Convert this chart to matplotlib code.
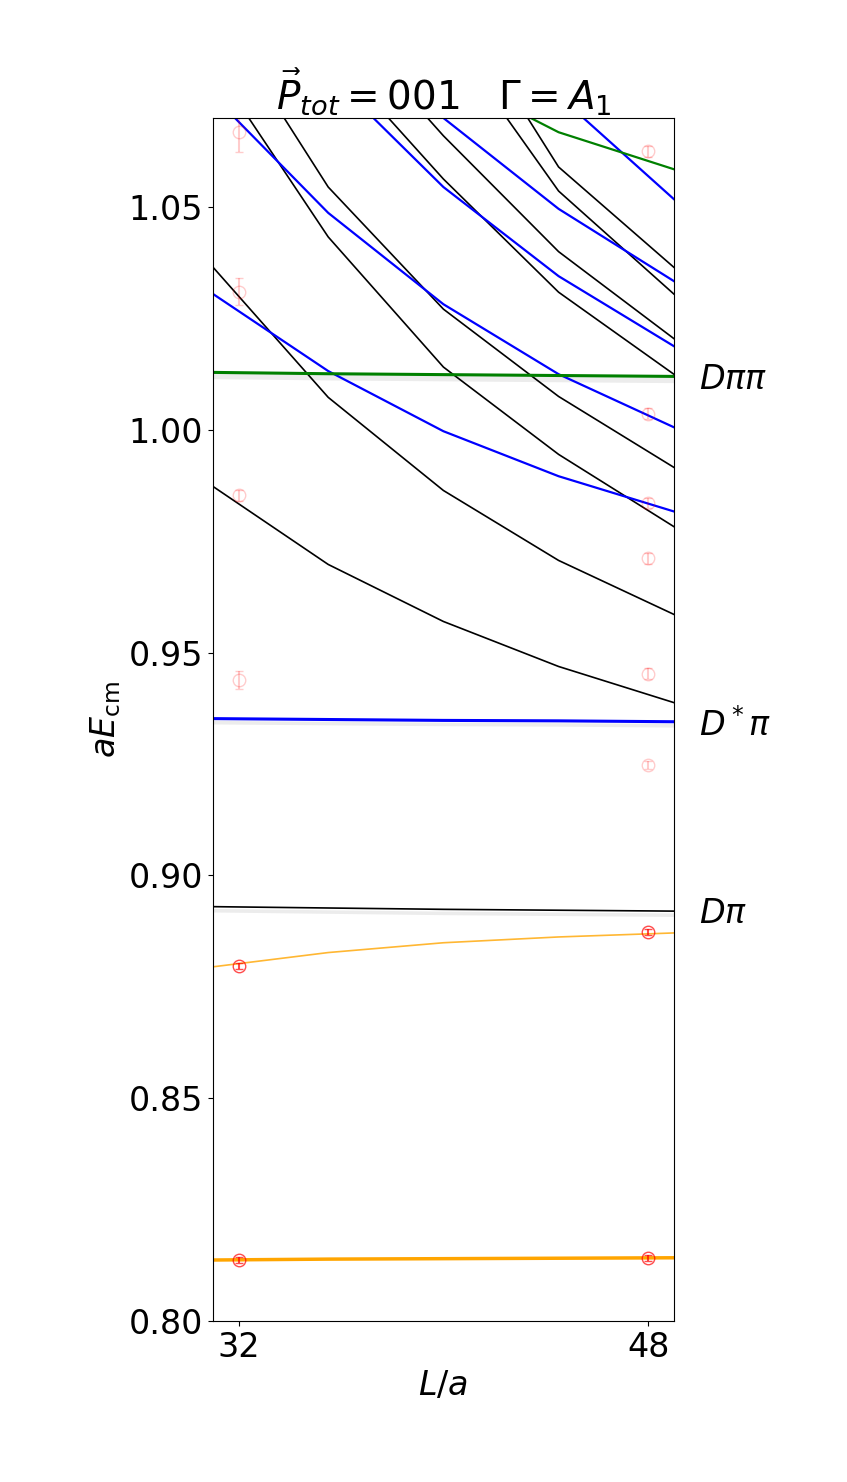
import matplotlib
matplotlib.use("Agg")
import matplotlib.pyplot as plt
import numpy as np

L_nodes = [31, 35.5, 40, 44.5, 49]
black_levels = [
    [0.893, 0.8927, 0.8924, 0.8922, 0.892],
    [0.9873, 0.9698, 0.957, 0.9469, 0.9388],
    [1.0365, 1.0073, 0.9864, 0.9707, 0.9586],
    [1.082, 1.0433, 1.0141, 0.9945, 0.9783],
    [1.095, 1.0545, 1.0271, 1.0075, 0.9916],
    [1.12, 1.085, 1.0563, 1.0309, 1.0125],
    [1.13, 1.095, 1.066, 1.040, 1.0205],
    [1.16, 1.12, 1.09, 1.0536, 1.0305],
    [1.17, 1.13, 1.10, 1.059, 1.0365],
]
blue_levels = [
    [0.9352, 0.935, 0.9348, 0.9347, 0.9345],
    [1.0305, 1.0132, 0.9997, 0.9896, 0.9817],
    [1.075, 1.0487, 1.0282, 1.0125, 1.0006],
    [1.11, 1.08, 1.0545, 1.0345, 1.0188],
    [1.13, 1.10, 1.07, 1.0496, 1.0334],
    [1.16, 1.13, 1.10, 1.075, 1.0518],
]
green_levels = [
    [1.0129, 1.0126, 1.0124, 1.0122, 1.012],
    [1.12, 1.095, 1.08, 1.0668, 1.0585],
]
orange_thick = [0.8137, 0.8139, 0.814, 0.8141, 0.8142]
orange_thin = [0.8795, 0.8827, 0.8849, 0.8862, 0.8871]

red_L = [32, 32, 48, 48]
red_E = [0.8137, 0.8796, 0.8141, 0.8873]
red_err = [0.0007, 0.0007, 0.0007, 0.0007]
pink_L = [32, 32, 32, 32, 48, 48, 48, 48, 48, 48]
pink_E = [1.0668, 1.031, 0.9853, 0.9438, 1.0625, 1.0036, 0.9836, 0.9712, 0.9453, 0.9249]
pink_err = [0.0045, 0.003, 0.0012, 0.002, 0.0012, 0.0012, 0.0012, 0.0012, 0.0012, 0.0009]

fig = plt.figure(figsize=(8.47, 14.82), dpi=100)
ax = fig.add_axes([0.2515, 0.1086, 0.544, 0.8118])

for lv in black_levels:
    ax.plot(L_nodes, lv, color="black", lw=1.2)
for i, lv in enumerate(blue_levels):
    ax.plot(L_nodes, lv, color="blue", lw=2.2 if i == 0 else 1.6)
for i, lv in enumerate(green_levels):
    ax.plot(L_nodes, lv, color="green", lw=2.2 if i == 0 else 1.6)
for lv, w in [(black_levels[0], 0.0004), (blue_levels[0], 0.0004), (green_levels[0], 0.0006)]:
    a = np.array(lv)
    ax.fill_between(L_nodes, a - w - 0.0008, a + w - 0.0008, color="grey", alpha=0.15, lw=0)
ax.plot(L_nodes, orange_thick, color="orange", lw=2.5)
ax.plot(L_nodes, orange_thin, color="orange", lw=1.2, alpha=0.8)

ax.errorbar(red_L, red_E, yerr=red_err, fmt="o", mfc="none", mec="red", ecolor="red",
            ms=9, capsize=3, alpha=0.7)
ax.errorbar(pink_L, pink_E, yerr=pink_err, fmt="o", mfc="none", mec="red", ecolor="red",
            ms=9, capsize=3, alpha=0.2)

ax.set_xlim(31, 49)
ax.set_ylim(0.80, 1.07)
ax.set_xticks([32, 48])
ax.set_yticks([0.80, 0.85, 0.90, 0.95, 1.00, 1.05])
ax.set_yticklabels(["0.80", "0.85", "0.90", "0.95", "1.00", "1.05"])
ax.tick_params(labelsize=24)
ax.set_xlabel(r"$L/a$", fontsize=24)
ax.set_ylabel(r"$aE_{\rm cm}$", fontsize=24)
ax.set_title(r"$\vec{P}_{tot}=001\quad\Gamma=A_1$", fontsize=28, pad=6)
for txt, y in [(r"$D\pi\pi$", 1.0113), (r"$D^*\pi$", 0.9337), (r"$D\pi$", 0.8915)]:
    ax.text(50.0, y, txt, fontsize=24, va="center", ha="left")

fig.savefig("out.png", dpi=100)
